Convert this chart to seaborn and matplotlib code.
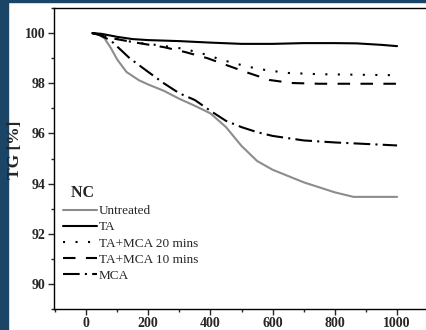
import matplotlib
matplotlib.use('Agg')
import matplotlib.pyplot as plt
import seaborn as sns
import pandas as pd
from matplotlib.patches import Rectangle
from matplotlib.ticker import MultipleLocator

sns.set_style('ticks')
plt.rcParams['font.family'] = ['Liberation Serif', 'DejaVu Serif']

# temperature (x) and TG % (y)
untreated_x = [20, 40, 60, 80, 100, 130, 170, 200, 250, 300, 350, 400, 450, 500, 550, 600, 650, 700, 750, 800, 860, 1000]
untreated_y = [100, 99.95, 99.78, 99.4, 98.95, 98.45, 98.12, 97.95, 97.7, 97.38, 97.1, 96.8, 96.25, 95.5, 94.9, 94.55, 94.3, 94.05, 93.85, 93.65, 93.47, 93.47]

ta_x = [20, 50, 100, 150, 200, 300, 400, 500, 600, 700, 800, 870, 950, 1000]
ta_y = [100, 99.97, 99.85, 99.76, 99.72, 99.68, 99.62, 99.57, 99.57, 99.6, 99.6, 99.59, 99.53, 99.48]

ta_mca20_x = [20, 80, 150, 230, 300, 360, 440, 520, 580, 650, 750, 1000]
ta_mca20_y = [100, 99.82, 99.64, 99.52, 99.4, 99.24, 98.92, 98.66, 98.52, 98.41, 98.36, 98.32]

ta_mca10_x = [20, 80, 170, 250, 320, 390, 450, 520, 590, 660, 750, 1000]
ta_mca10_y = [100, 99.8, 99.6, 99.44, 99.24, 99.0, 98.73, 98.42, 98.13, 98.01, 97.98, 97.98]

mca_x = [20, 40, 80, 140, 200, 250, 300, 350, 400, 450, 500, 550, 600, 700, 800, 900, 1000]
mca_y = [100, 99.95, 99.7, 99.0, 98.45, 98.0, 97.6, 97.33, 96.9, 96.5, 96.25, 96.05, 95.9, 95.72, 95.64, 95.58, 95.52]

series = [
    ('Untreated', untreated_x, untreated_y, '#8c8c8c', '-'),
    ('TA', ta_x, ta_y, 'black', '-'),
    ('TA+MCA 20 mins', ta_mca20_x, ta_mca20_y, 'black', (0, (1, 5))),
    ('TA+MCA 10 mins', ta_mca10_x, ta_mca10_y, 'black', (0, (6, 5))),
    ('MCA', mca_x, mca_y, 'black', (0, (8, 2.5, 1, 2.5))),
]

fig = plt.figure(figsize=(4.26, 3.30), dpi=100)
fig.patch.set_facecolor('white')
# dark strips at left and top edge
fig.patches.append(Rectangle((0, 0), 8 / 426, 1, transform=fig.transFigure,
                             color='#1a4566', zorder=-10))
fig.patches.append(Rectangle((0, 1 - 2 / 330), 1, 2 / 330, transform=fig.transFigure,
                             color='#1a4566', zorder=-10))

ax = fig.add_axes([54 / 426, 21 / 330, 372 / 426, 301 / 330])
for name, xs, ys, col, ls in series:
    df = pd.DataFrame({'T': xs, 'TG': ys})
    sns.lineplot(data=df, x='T', y='TG', ax=ax, color=col, linestyle=ls,
                 linewidth=1.5, label=name)

ax.set_xlim(-103, 1093)
ax.set_ylim(89, 101)
ax.xaxis.set_major_locator(MultipleLocator(200))
ax.xaxis.set_minor_locator(MultipleLocator(100))
ax.yaxis.set_major_locator(MultipleLocator(2))
ax.yaxis.set_minor_locator(MultipleLocator(1))
ax.tick_params(which='major', direction='out', length=4, width=1, pad=2)
ax.tick_params(which='minor', direction='out', length=2.5, width=1)
for lab in ax.get_xticklabels() + ax.get_yticklabels():
    lab.set_fontweight('bold')
    lab.set_fontsize(10)
ax.set_xlabel('')
ax.set_ylabel('TG [%]', fontsize=12.5, fontweight='bold')
ax.yaxis.set_label_coords(-0.082, 0.53)

for s in ['left', 'bottom', 'top']:
    ax.spines[s].set_color('black')
    ax.spines[s].set_linewidth(1)
ax.spines['right'].set_visible(False)

leg = ax.legend(loc='lower left', bbox_to_anchor=(0.024, 0.09), frameon=False,
                title='  NC', fontsize=9.5, handlelength=2.6, handletextpad=0.1,
                labelspacing=0.3, borderpad=0, borderaxespad=0,
                alignment='left')
leg.get_title().set_fontweight('bold')
leg.get_title().set_fontsize(11.5)

fig.savefig('out.png', dpi=100)
